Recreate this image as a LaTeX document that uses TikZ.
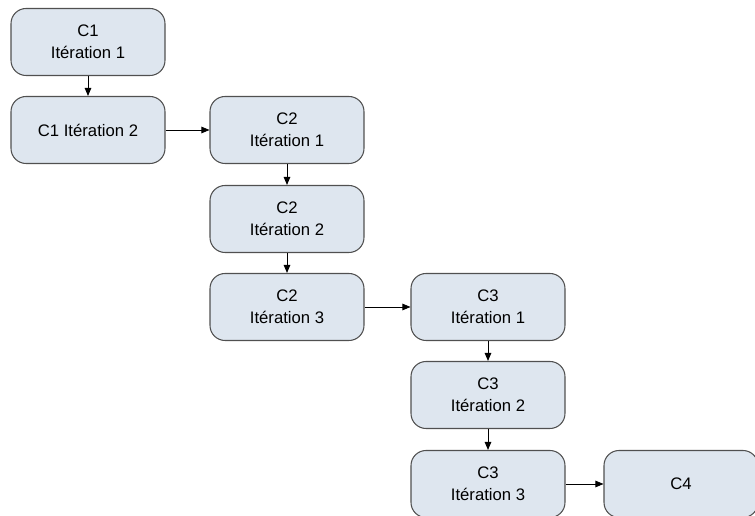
\documentclass[tikz,border=0pt]{standalone}
\usepackage{fontspec}
\setmainfont{Liberation Sans}
\usetikzlibrary{arrows.meta}
\definecolor{fondetape}{HTML}{DEE6EF}
\definecolor{bordetape}{HTML}{505050}
\tikzset{
  etape/.style={draw=bordetape, fill=fondetape, rounded corners=0.3cm,
    minimum width=3.08cm, minimum height=1.34cm, align=center, inner sep=1pt,
    line width=0.6pt, font=\fontsize{9.5}{12.5}\selectfont},
  fleche/.style={-{Triangle[length=1.6mm,width=1.3mm]}, line width=0.5pt}
}
\begin{document}
\begin{tikzpicture}[x=0.02cm,y=-0.02cm]
  \useasboundingbox (0,0) rectangle (755,516);
  \clip (0,0) rectangle (755,516);
  % colonne C1
  \node[etape] (c1i1) at (88,42) {C1\\Itération 1};
  \node[etape] (c1i2) at (88,130) {C1 Itération 2};
  % colonne C2
  \node[etape] (c2i1) at (287,130) {C2\\Itération 1};
  \node[etape] (c2i2) at (287,219) {C2\\Itération 2};
  \node[etape] (c2i3) at (287,307) {C2\\Itération 3};
  % colonne C3
  \node[etape] (c3i1) at (488,307) {C3\\Itération 1};
  \node[etape] (c3i2) at (488,395) {C3\\Itération 2};
  \node[etape] (c3i3) at (488,484) {C3\\Itération 3};
  % C4
  \node[etape] (c4) at (681,484) {C4};
  % fleches
  \draw[fleche] (c1i1) -- (c1i2);
  \draw[fleche] (c1i2) -- (c2i1);
  \draw[fleche] (c2i1) -- (c2i2);
  \draw[fleche] (c2i2) -- (c2i3);
  \draw[fleche] (c2i3) -- (c3i1);
  \draw[fleche] (c3i1) -- (c3i2);
  \draw[fleche] (c3i2) -- (c3i3);
  \draw[fleche] (c3i3) -- (c4);
\end{tikzpicture}
\end{document}
